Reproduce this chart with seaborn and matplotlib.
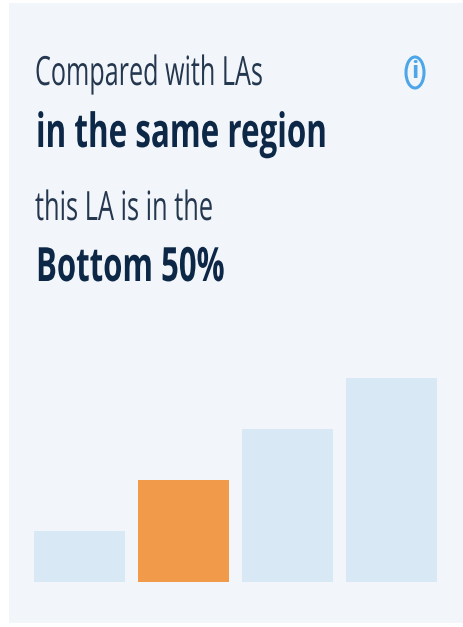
import matplotlib
matplotlib.use("Agg")
import matplotlib.pyplot as plt
import matplotlib.patheffects as pe
from matplotlib.patches import Ellipse, Rectangle
from matplotlib.transforms import Affine2D
import pandas as pd
import seaborn as sns

quartiles = ["Q1", "Q2", "Q3", "Q4"]
heights = [1, 2, 3, 4]
bar_colors = ["#d8e8f4", "#f19a4a", "#d8e8f4", "#d8e8f4"]

line_1 = "Compared with LAs"
line_2 = "in the same region"
line_3 = "this LA is in the"
line_4 = "Bottom 50%"

W, H = 463, 627


# reference is squashed sideways, so glyphs get rescaled around their origin
class Squeeze(pe.AbstractPathEffect):
    def __init__(self, sx, sy=1):
        super().__init__()
        self.sx = sx
        self.sy = sy

    def draw_path(self, renderer, gc, tpath, affine, rgbFace=None):
        renderer.draw_path(gc, tpath, Affine2D().scale(self.sx, self.sy) + affine, rgbFace)


def fx(x):
    return x / W


def fy(y):
    return 1 - y / H


sns.set_theme(style="white")
plt.rcParams["font.family"] = ["Open Sans", "Noto Sans", "DejaVu Sans"]

fig = plt.figure(figsize=(W / 100, H / 100), dpi=100, facecolor="white")

# card background
fig.add_artist(Rectangle((fx(9), fy(623)), fx(454), 620 / H, transform=fig.transFigure,
                         facecolor="#f2f6fa", edgecolor="none", zorder=-1))

ax = fig.add_axes([fx(34), fy(582), 403 / W, 204 / H])
df = pd.DataFrame({"quartile": quartiles, "height": heights})
sns.barplot(data=df, x="quartile", y="height", hue="quartile", palette=bar_colors,
            width=0.875, saturation=1, legend=False, linewidth=0, edgecolor="none", ax=ax)
ax.set_xlim(-0.4375, 3.4375)
ax.set_ylim(0, 4)
ax.axis("off")

dark = "#0d2747"
soft = "#24374f"
fig.text(fx(35), fy(85), line_1, fontsize=29, color=soft, path_effects=[Squeeze(0.625)])
fig.text(fx(36), fy(147), line_2, fontsize=28, color=dark, fontweight="bold",
         path_effects=[Squeeze(0.807, 1.214)])
fig.text(fx(35), fy(220), line_3, fontsize=29, color=soft, path_effects=[Squeeze(0.63)])
fig.text(fx(36), fy(281), line_4, fontsize=28, color=dark, fontweight="bold",
         path_effects=[Squeeze(0.80, 1.214)])

# info icon
fig.add_artist(Ellipse((fx(415), fy(72.5)), 18 / W, 31 / H, transform=fig.transFigure,
                       facecolor="none", edgecolor="#4da6e8", linewidth=2.2))
fig.text(fx(415), fy(72.5), "i", fontsize=17, color="#4da6e8", fontweight="bold",
         ha="center", va="center")

fig.savefig("out.png", dpi=100)
